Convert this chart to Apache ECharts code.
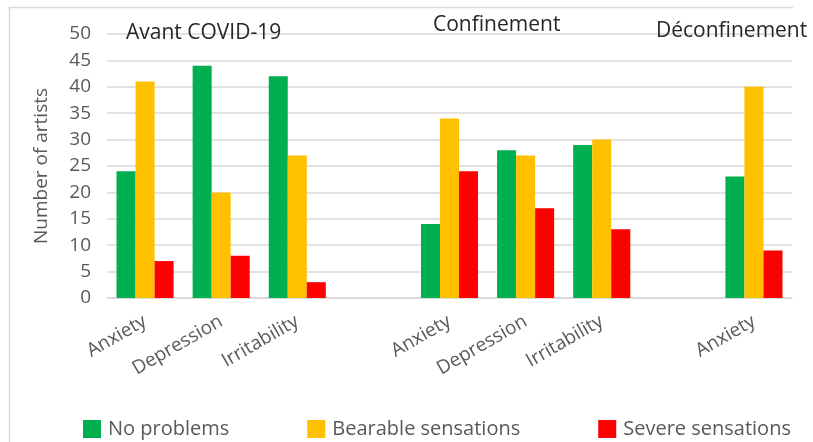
<!DOCTYPE html>
<html>
<head>
<meta charset="utf-8">
<script src="https://cdn.jsdelivr.net/npm/echarts@6/dist/echarts.min.js"></script>
<style>
  html, body { margin: 0; padding: 0; background: #fff; }
  #chart { width: 813px; height: 442px; }
</style>
</head>
<body>
<div id="chart"></div>
<script>
// Symptom categories per period; empty slots separate the three periods
const categories = ['Anxiety', 'Depression', 'Irritability', '', 'Anxiety', 'Depression', 'Irritability', '', 'Anxiety'];
const periods = ['Avant COVID-19', 'Confinement', 'Déconfinement'];
const seriesNames = ['No problems', 'Bearable sensations', 'Severe sensations'];
const noProblems = [24, 44, 42, null, 14, 28, 29, null, 23];
const bearable   = [41, 20, 27, null, 34, 27, 30, null, 40];
const severe     = [7, 8, 3, null, 24, 17, 13, null, 9];
const yTicks = { min: 0, max: 50, interval: 5 };

const colors = ['#00b050', '#ffc000', '#ff0000'];
const textColor = '#595959';
const fontFamily = 'Open Sans, Noto Sans, sans-serif';

const chart = echarts.init(document.getElementById('chart'), null, { renderer: 'canvas' });

const values = [noProblems, bearable, severe];
const series = seriesNames.map((name, i) => ({
  name,
  type: 'bar',
  data: values[i],
  barGap: '0%',
  barCategoryGap: '25%',
  itemStyle: { color: colors[i] }
}));

chart.setOption({
  animation: false,
  backgroundColor: '#fff',
  textStyle: { fontFamily },
  grid: { left: 107, right: 21, top: 34, bottom: 144 },
  xAxis: {
    type: 'category',
    data: categories,
    axisLine: { show: true, lineStyle: { color: '#d9d9d9', width: 1.5 } },
    axisTick: { show: false },
    axisLabel: {
      rotate: 30,
      margin: 22,
      interval: 0,
      color: textColor,
      fontSize: 19,
      fontFamily
    }
  },
  yAxis: {
    type: 'value',
    min: yTicks.min,
    max: yTicks.max,
    interval: yTicks.interval,
    name: 'Number of artists',
    nameLocation: 'middle',
    nameGap: 56,
    nameTextStyle: { color: textColor, fontSize: 19, fontFamily },
    axisLine: { show: false },
    axisTick: { show: false },
    axisLabel: { color: textColor, fontSize: 19, margin: 16, fontFamily },
    splitLine: { lineStyle: { color: '#d9d9d9', width: 1.5 } }
  },
  legend: {
    left: 83,
    bottom: 3,
    padding: 0,
    itemWidth: 18,
    itemHeight: 18,
    itemGap: 78,
    icon: 'rect',
    textStyle: { color: textColor, fontSize: 20, fontFamily, padding: [0, 0, 0, 2] },
    data: seriesNames
  },
  graphic: [
    // outer chart frame
    {
      type: 'polyline',
      shape: { points: [[9.5, 442], [9.5, 7.5], [793, 7.5]] },
      style: { stroke: '#d9d9d9', lineWidth: 1.5, fill: null },
      silent: true
    },
    // period headings
    {
      type: 'text', left: 126, top: 23, z: 10,
      style: { text: periods[0], fill: '#262626', font: '21px ' + fontFamily }
    },
    {
      type: 'text', left: 433, top: 15, z: 10,
      style: { text: periods[1], fill: '#262626', font: '21px ' + fontFamily }
    },
    {
      type: 'text', left: 656, top: 21, z: 10,
      style: { text: periods[2], fill: '#262626', font: '21px ' + fontFamily }
    }
  ],
  series
});
</script>
</body>
</html>
